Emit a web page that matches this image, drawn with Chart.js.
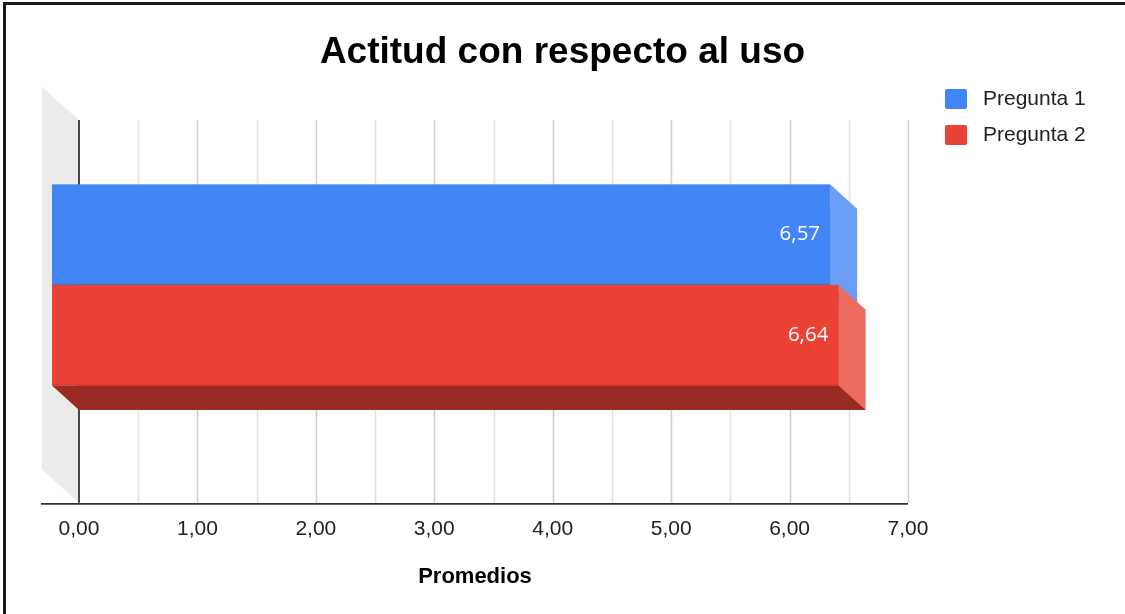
<!DOCTYPE html>
<html>
<head>
<meta charset="utf-8">
<script src="https://cdn.jsdelivr.net/npm/chart.js@4/dist/chart.umd.min.js"></script>
<style>
  body { margin: 0; background: #fff; }
  #wrap { position: relative; width: 1125px; height: 614px; }
  #frame { position: absolute; left: 3px; top: 2px; width: 1122px; height: 612px;
           border-top: 3px solid #1a1a1a; border-left: 3px solid #1a1a1a; box-sizing: border-box; pointer-events: none; }
</style>
</head>
<body>
<div id="wrap">
  <canvas id="chart" width="1125" height="614"></canvas>
  <div id="frame"></div>
</div>
<script>
// data
const categories = ['Actitud con respecto al uso'];
const seriesNames = ['Pregunta 1', 'Pregunta 2'];
const pregunta1 = [6.57];
const pregunta2 = [6.64];
const tickLabels = ['0,00', '1,00', '2,00', '3,00', '4,00', '5,00', '6,00', '7,00'];
const axisTitle = 'Promedios';

// colours: front, side, bottom
const faceColors = [
    { front: '#4285f4', side: '#6a9ef7', bottom: '#2f62b8', edge: '#3a70d0' },
    { front: '#ea4335', side: '#ee6b60', bottom: '#992b22', edge: '#c9372b' }
];
const DEPTH_X = 27, DEPTH_Y = 24.5;   // bar depth
const WALL_X = 37, WALL_Y = 33;       // side wall depth
const GRID_GAP = 4;                   // grid starts a bit below the plot top

Chart.defaults.font.family = '"Liberation Sans", Arial, sans-serif';

// back wall, grid and axis lines
const wallPlugin = {
    id: 'wall',
    beforeDatasetsDraw(chart) {
        const ctx = chart.ctx;
        const area = chart.chartArea;
        const top = area.top + GRID_GAP;
        const xs = chart.scales.x;
        ctx.save();
        // grey side wall
        ctx.fillStyle = '#ebebeb';
        ctx.beginPath();
        ctx.moveTo(area.left, top);
        ctx.lineTo(area.left - WALL_X, top - WALL_Y);
        ctx.lineTo(area.left - WALL_X, area.bottom - WALL_Y);
        ctx.lineTo(area.left, area.bottom);
        ctx.closePath();
        ctx.fill();
        // grid lines
        xs.ticks.forEach(t => {
            if (t.value === 0) return;
            const px = Math.round(xs.getPixelForValue(t.value)) + 0.5;
            ctx.strokeStyle = Number.isInteger(t.value) ? '#cfcfcf' : '#e2e2e2';
            ctx.lineWidth = 1.6;
            ctx.beginPath();
            ctx.moveTo(px, top);
            ctx.lineTo(px, area.bottom);
            ctx.stroke();
        });
        // zero line
        const zx = Math.round(xs.getPixelForValue(0));
        ctx.strokeStyle = '#333';
        ctx.lineWidth = 1.8;
        ctx.beginPath();
        ctx.moveTo(zx, top);
        ctx.lineTo(zx, area.bottom);
        ctx.stroke();
        // base line
        ctx.beginPath();
        ctx.moveTo(area.left - WALL_X - 1, area.bottom + 1);
        ctx.lineTo(area.right, area.bottom + 1);
        ctx.stroke();
        // axis title, centred under wall + plot
        ctx.fillStyle = '#000';
        ctx.font = 'bold 22px "Liberation Sans", Arial, sans-serif';
        ctx.textAlign = 'center';
        ctx.textBaseline = 'middle';
        ctx.fillText(axisTitle, (area.left - WALL_X + area.right) / 2, 577);
        ctx.restore();
    }
};

// 3D faces of the bars plus value labels
const boxPlugin = {
    id: 'box3d',
    afterDatasetsDraw(chart) {
        const ctx = chart.ctx;
        ctx.save();
        chart.data.datasets.forEach((ds, i) => {
            const meta = chart.getDatasetMeta(i);
            const c = faceColors[i];
            meta.data.forEach((bar, j) => {
                const p = bar.getProps(['x', 'y', 'base', 'height'], true);
                const bx0 = p.base, bx1 = p.x;
                const by0 = p.y - p.height / 2, by1 = p.y + p.height / 2;
                const fx0 = bx0 - DEPTH_X, fx1 = bx1 - DEPTH_X;
                const fy0 = by0 - DEPTH_Y, fy1 = by1 - DEPTH_Y;
                // side
                ctx.fillStyle = c.side;
                ctx.beginPath();
                ctx.moveTo(fx1, fy0); ctx.lineTo(bx1, by0); ctx.lineTo(bx1, by1); ctx.lineTo(fx1, fy1);
                ctx.closePath(); ctx.fill();
                // bottom
                ctx.fillStyle = c.bottom;
                ctx.beginPath();
                ctx.moveTo(fx0, fy1); ctx.lineTo(fx1, fy1); ctx.lineTo(bx1, by1); ctx.lineTo(bx0, by1);
                ctx.closePath(); ctx.fill();
                // front
                ctx.fillStyle = c.front;
                ctx.fillRect(fx0, fy0, fx1 - fx0, fy1 - fy0);
                ctx.fillStyle = c.edge;
                ctx.fillRect(fx0, fy1 - 1, fx1 - fx0, 1);
                // label
                const v = ds.data[j];
                ctx.fillStyle = '#fff';
                ctx.font = '500 20.5px "Open Sans", Roboto, sans-serif';
                ctx.textAlign = 'right';
                ctx.textBaseline = 'middle';
                ctx.fillText(v.toFixed(2).replace('.', ','), fx1 - 10, (fy0 + fy1) / 2);
            });
        });
        ctx.restore();
    }
};

// legend on the right
const legendPlugin = {
    id: 'sideLegend',
    afterDraw(chart) {
        const ctx = chart.ctx;
        ctx.save();
        chart.data.datasets.forEach((ds, i) => {
            const y = 89 + i * 36;
            ctx.fillStyle = ds.backgroundColor;
            ctx.beginPath();
            ctx.roundRect(945, y, 22, 20, 2);
            ctx.fill();
            ctx.fillStyle = '#222';
            ctx.font = '21px "Liberation Sans", Arial, sans-serif';
            ctx.textAlign = 'left';
            ctx.textBaseline = 'middle';
            ctx.fillText(ds.label, 983, y + 10);
        });
        ctx.restore();
    }
};

new Chart(document.getElementById('chart'), {
    type: 'bar',
    data: {
        labels: categories,
        datasets: [
            { label: seriesNames[0], data: pregunta1, backgroundColor: faceColors[0].front },
            { label: seriesNames[1], data: pregunta2, backgroundColor: faceColors[1].front }
        ]
    },
    options: {
        indexAxis: 'y',
        responsive: false,
        animation: false,
        categoryPercentage: 0.52,
        barPercentage: 1,
        layout: { padding: { left: 0, right: 0, top: 0, bottom: 58 } },
        plugins: {
            legend: { display: false },
            tooltip: { enabled: false },
            title: {
                display: true,
                text: 'Actitud con respecto al uso',
                color: '#000',
                font: { size: 37, weight: 'bold' },
                padding: { top: 31, bottom: 40.6 }
            }
        },
        scales: {
            x: {
                min: 0,
                max: 7,
                grid: { display: false, drawTicks: false },
                border: { display: false },
                ticks: {
                    stepSize: 0.5,
                    autoSkip: false,
                    maxRotation: 0,
                    padding: 14,
                    color: '#222',
                    font: { size: 21 },
                    callback: v => Number.isInteger(v) ? tickLabels[v] : ''
                }
            },
            y: {
                position: 'left',
                grid: { display: false },
                border: { display: false },
                ticks: { display: false },
                afterFit: s => { s.width = 79; }
            },
            yRight: {
                type: 'category',
                position: 'right',
                grid: { display: false },
                border: { display: false },
                ticks: { display: false },
                afterFit: s => { s.width = 217; }
            }
        }
    },
    plugins: [wallPlugin, boxPlugin, legendPlugin]
});
</script>
</body>
</html>
